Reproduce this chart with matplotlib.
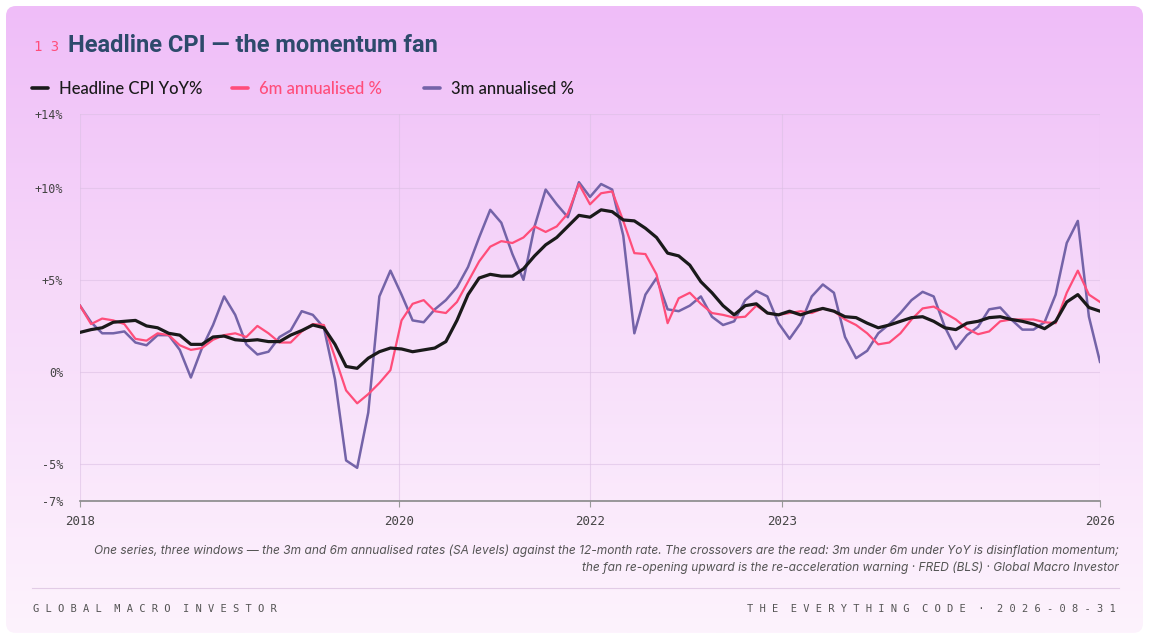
import matplotlib
matplotlib.use("Agg")
import matplotlib.pyplot as plt
import numpy as np
from matplotlib.patches import FancyBboxPatch
from matplotlib.colors import LinearSegmentedColormap

yoy = [2.15,2.3,2.4,2.7,2.75,2.8,2.5,2.4,2.1,2.0,1.5,1.5,1.9,1.95,1.75,1.7,1.75,1.65,1.65,2.0,
       2.25,2.55,2.4,1.5,0.3,0.2,0.75,1.1,1.3,1.25,1.1,1.2,1.3,1.65,2.8,4.2,5.1,5.3,5.2,5.2,
       5.6,6.3,6.9,7.3,7.9,8.5,
       8.4,8.8,8.7,8.25,8.2,7.8,7.3,6.45,6.3,5.8,4.9,4.3,3.6,3.1,3.6,3.7,3.2,3.1,3.3,3.1,3.3,3.45,
       3.3,3.0,2.95,2.65,2.4,2.55,2.75,2.95,3.0,2.75,2.4,2.3,2.65,2.75,2.95,3.0,2.85,2.75,2.6,
       2.35,2.75,3.8,4.2,3.5,3.3]
m6 = [3.6,2.6,2.9,2.8,2.6,1.8,1.7,2.1,2.0,1.45,1.2,1.3,1.75,2.0,2.1,1.9,2.5,2.1,1.6,1.6,
      2.2,2.6,2.55,0.8,-1.0,-1.7,-1.2,-0.6,0.1,2.8,3.7,3.9,3.3,3.2,3.8,4.9,6.0,6.8,7.1,7.0,
      7.3,7.9,7.6,7.9,8.6,10.2,
      9.1,9.7,9.8,8.2,6.45,6.4,5.3,2.65,4.0,4.3,3.7,3.2,3.1,2.95,3.0,3.6,3.2,3.1,3.2,3.3,3.2,3.45,
      3.3,2.85,2.55,2.1,1.5,1.6,2.1,2.85,3.45,3.55,3.2,2.85,2.35,2.05,2.2,2.75,2.85,2.85,2.85,
      2.7,2.65,4.3,5.5,4.2,3.8]
m3 = [3.6,2.7,2.1,2.1,2.2,1.6,1.45,2.0,2.0,1.2,-0.3,1.3,2.55,4.1,3.1,1.5,0.95,1.1,1.9,2.25,
      3.3,3.1,2.4,-0.4,-4.8,-5.2,-2.2,4.1,5.5,4.2,2.8,2.7,3.4,3.9,4.6,5.7,7.3,8.8,8.1,6.4,
      5.0,7.9,9.9,9.1,8.4,10.3,
      9.5,10.2,9.9,7.4,2.1,4.2,5.1,3.4,3.3,3.6,4.1,3.0,2.55,2.75,3.9,4.4,4.1,2.65,1.8,2.65,4.1,4.75,
      4.3,1.9,0.75,1.15,2.1,2.6,3.2,3.9,4.35,4.1,2.45,1.25,2.0,2.45,3.4,3.5,2.85,2.3,2.3,
      2.7,4.2,7.0,8.2,3.0,0.55]
tick_labels = ["2018", "2020", "2022", "2023", "2026"]
tick_frac = [0.0, 0.3127, 0.5, 0.6882, 1.0]
y_ticks = [-7, -5, 0, 5, 10, 14]
y_labels = ["-7%", "-5%", "0%", "+5%", "+10%", "+14%"]

W, H = 1151, 641
fig = plt.figure(figsize=(W/100, H/100), dpi=100)
fig.patch.set_facecolor("white")
bg = fig.add_axes([0, 0, 1, 1], zorder=0)
bg.set_xlim(0, W); bg.set_ylim(H, 0); bg.axis("off")
grad = np.linspace(0, 1, 256)[:, None]
cmap = LinearSegmentedColormap.from_list("g", ["#efbdf8", "#f7dcfa", "#fdf3fd"])
card = FancyBboxPatch((6, 6), W-14, H-14, boxstyle="round,pad=0,rounding_size=10",
                      facecolor="none", edgecolor="none")
bg.add_patch(card)
im = bg.imshow(grad, extent=[6, W-8, H-8, 6], cmap=cmap, aspect="auto", zorder=0)
im.set_clip_path(card)

fig.text(34/W, 1-47/H, "1 3", color="#ff4d7a", fontsize=10, va="center", family="DejaVu Sans Mono")
fig.text(68/W, 1-45/H, "Headline CPI — the momentum fan", color="#2d4a6b", fontsize=17,
         fontweight="bold", va="center", family="Roboto", fontstretch="condensed")

leg = [("Headline CPI YoY%", "#1a1a1a", "#1a1a1a", 32), ("6m annualised %", "#ff4d7a", "#ff4d7a", 232),
       ("3m annualised %", "#7463a8", "#1a1a1a", 424)]
for lab, c, tc, x0 in leg:
    bg.plot([x0, x0+16], [88, 88], color=c, lw=2.6, solid_capstyle="round")
    bg.text(x0+27, 89, lab, color=tc, fontsize=12, va="center", family="Lato", fontweight="medium")

ax = fig.add_axes([80/W, 1-501/H, 1020/W, 387/H], zorder=1)
ax.set_facecolor("none")
n = len(yoy)
x = np.arange(n)
ax.plot(x, m3, color="#7463a8", lw=1.8, zorder=3)
ax.plot(x, m6, color="#ff4d7a", lw=1.6, zorder=4)
ax.plot(x, yoy, color="#1a1a1a", lw=2.3, zorder=5)
ax.set_xlim(0, n-1)
ax.set_ylim(-7, 14)
ax.set_yticks(y_ticks)
ax.set_yticklabels(y_labels, family="DejaVu Sans Mono", fontsize=8.5, color="#444444")
xt = [f*(n-1) for f in tick_frac]
ax.set_xticks(xt)
ax.set_xticklabels(tick_labels, family="DejaVu Sans Mono", fontsize=9, color="#444444")
ax.tick_params(axis="y", length=0, pad=12)
ax.tick_params(axis="x", length=4, color="#999999", pad=6)
ax.grid(True, color="#dcc0e4", lw=0.8, alpha=0.6)
for s in ["top", "right", "left"]:
    ax.spines[s].set_visible(False)
ax.spines["bottom"].set_color("#888888")
ax.spines["bottom"].set_linewidth(1.2)

cap = ("One series, three windows — the 3m and 6m annualised rates (SA levels) against the 12-month rate. The crossovers are the read: 3m under 6m under YoY is disinflation momentum;\n"
       "the fan re-opening upward is the re-acceleration warning · FRED (BLS) · Global Macro Investor")
fig.text(1119/W, 1-559/H, cap, ha="right", va="center", fontsize=8.6, style="italic",
         color="#555555", family="Inter", linespacing=1.5, multialignment="right")
bg.plot([32, 1119], [588, 588], color="#e2cce6", lw=0.8)
fig.text(33/W, 1-609/H, "G L O B A L  M A C R O  I N V E S T O R", fontsize=7.5, color="#555555",
         family="DejaVu Sans Mono", va="center")
fig.text(1116/W, 1-609/H, "T H E  E V E R Y T H I N G  C O D E  ·  2 0 2 6 - 0 8 - 3 1", fontsize=7.5,
         color="#555555", family="DejaVu Sans Mono", va="center", ha="right")
fig.savefig("out.png", dpi=100)
